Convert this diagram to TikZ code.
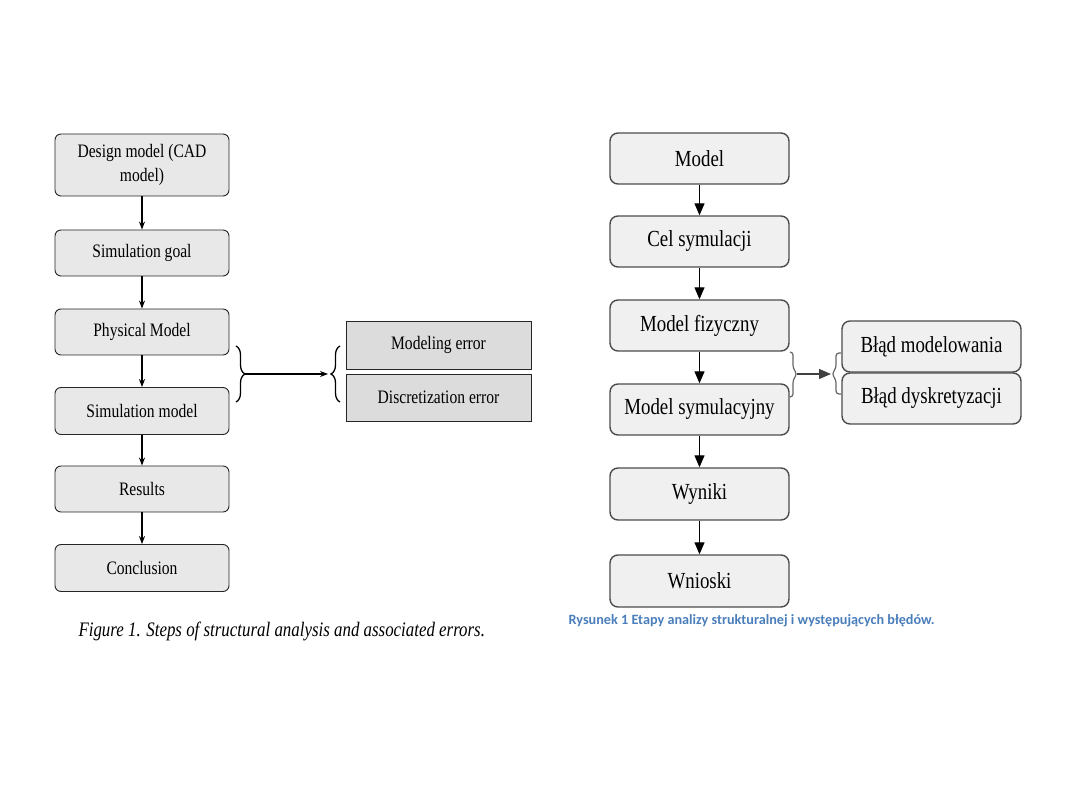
\documentclass[tikz,border=0pt]{standalone}
\usepackage{fontspec}
\setmainfont{Liberation Serif}
\newfontfamily\boxfont[FakeStretch=0.82]{Liberation Serif}
\newfontfamily\capfont{Carlito}
\usetikzlibrary{arrows.meta,decorations.pathreplacing}
\definecolor{lfill}{HTML}{E8E8E8}
\definecolor{efill}{HTML}{DCDCDC}
\definecolor{rfill}{HTML}{F0F0F0}
\definecolor{capblue}{HTML}{4A7EBB}
\tikzset{
  lbox/.style={draw=black!85, line width=0.9pt, fill=lfill, rounded corners=6pt,
    minimum width=174pt, inner sep=0pt, font=\boxfont\fontsize{19}{23}\selectfont, align=center},
  ebox/.style={draw=black!85, line width=0.9pt, fill=efill,
    minimum width=185pt, inner sep=0pt, font=\boxfont\fontsize{19}{23}\selectfont},
  rbox/.style={draw=black!70, line width=1.4pt, fill=rfill, rounded corners=8pt,
    minimum width=179pt, minimum height=51pt, inner sep=0pt, font=\boxfont\fontsize{23}{27}\selectfont},
  larr/.style={-{Stealth[length=8pt,width=6pt]}, line width=1.1pt},
  rarr/.style={-{Triangle[length=12pt,width=10pt]}, line width=1.2pt},
  lbrace/.style={decorate, decoration={brace, amplitude=9pt}, line width=1.3pt},
  rbrace/.style={draw=black!60, line width=1.2pt, rounded corners=3pt},
}
\begin{document}
\begin{tikzpicture}[x=1pt,y=-1pt]
\useasboundingbox (0,0) rectangle (1080,810);
% left diagram
\node[lbox, minimum height=62pt] (d) at (142,165) {Design model (CAD\\[1pt]model)};
\node[lbox, minimum height=46pt] (sg) at (142,253) {Simulation goal};
\node[lbox, minimum height=46pt] (pm) at (142,332) {Physical Model};
\node[lbox, minimum height=47pt] (sm) at (142,411) {Simulation model};
\node[lbox, minimum height=46pt] (re) at (142,489) {Results};
\node[lbox, minimum height=47pt] (co) at (142,568) {Conclusion};
\draw[larr] (d) -- (sg);
\draw[larr] (sg) -- (pm);
\draw[larr] (pm) -- (sm);
\draw[larr] (sm) -- (re);
\draw[larr] (re) -- (co);
\node[ebox, minimum height=48pt] (me) at (438.5,345) {Modeling error};
\node[ebox, minimum height=47pt] (de) at (438.5,397.5) {Discretization error};
\coordinate (lb1) at (236,346);
\coordinate (lb2) at (236,402);
\coordinate (lb3) at (340,402);
\coordinate (lb4) at (340,346);
\draw[lbrace] (lb1) -- (lb2);
\draw[lbrace] (lb3) -- (lb4);
\coordinate (la1) at (245,374);
\coordinate (la2) at (328,374);
\draw[larr] (la1) -- (la2);
\node[font=\boxfont\itshape\fontsize{20.6}{25}\selectfont, anchor=west] (lcap) at (75,631) {Figure 1. Steps of structural analysis and associated errors.};
% right diagram
\node[rbox] (m) at (699.5,158.5) {Model};
\node[rbox] (cs) at (699.5,241.5) {Cel symulacji};
\node[rbox] (mf) at (699.5,325.5) {Model fizyczny};
\node[rbox] (ms) at (699.5,409.5) {Model symulacyjny};
\node[rbox, minimum height=52pt] (w) at (699.5,494) {Wyniki};
\node[rbox, minimum height=52pt] (wn) at (699.5,581) {Wnioski};
\draw[rarr] (m) -- (cs);
\draw[rarr] (cs) -- (mf);
\draw[rarr] (mf) -- (ms);
\draw[rarr] (ms) -- (w);
\draw[rarr] (w) -- (wn);
\node[rbox] (bm) at (931.5,346.5) {Błąd modelowania};
\node[rbox] (bd) at (931.5,398.5) {Błąd dyskretyzacji};
\coordinate (ra) at (797,374);
\coordinate (rb) at (831,374);
\draw[rbrace] (790,352) -- (793,352) -- (793,368) -- (797,374) -- (793,380) -- (793,397) -- (790,397);
\draw[rbrace] (841,353) -- (836,353) -- (836,368) -- (832,374) -- (836,380) -- (836,394) -- (841,394);
\draw[rarr, draw=black!75] (ra) -- (rb);
\node[font=\capfont\bfseries\fontsize{14.2}{17}\selectfont, text=capblue, anchor=west] (rcap) at (565,621) {Rysunek 1 Etapy analizy strukturalnej i występujących błędów.};
\end{tikzpicture}
\end{document}
